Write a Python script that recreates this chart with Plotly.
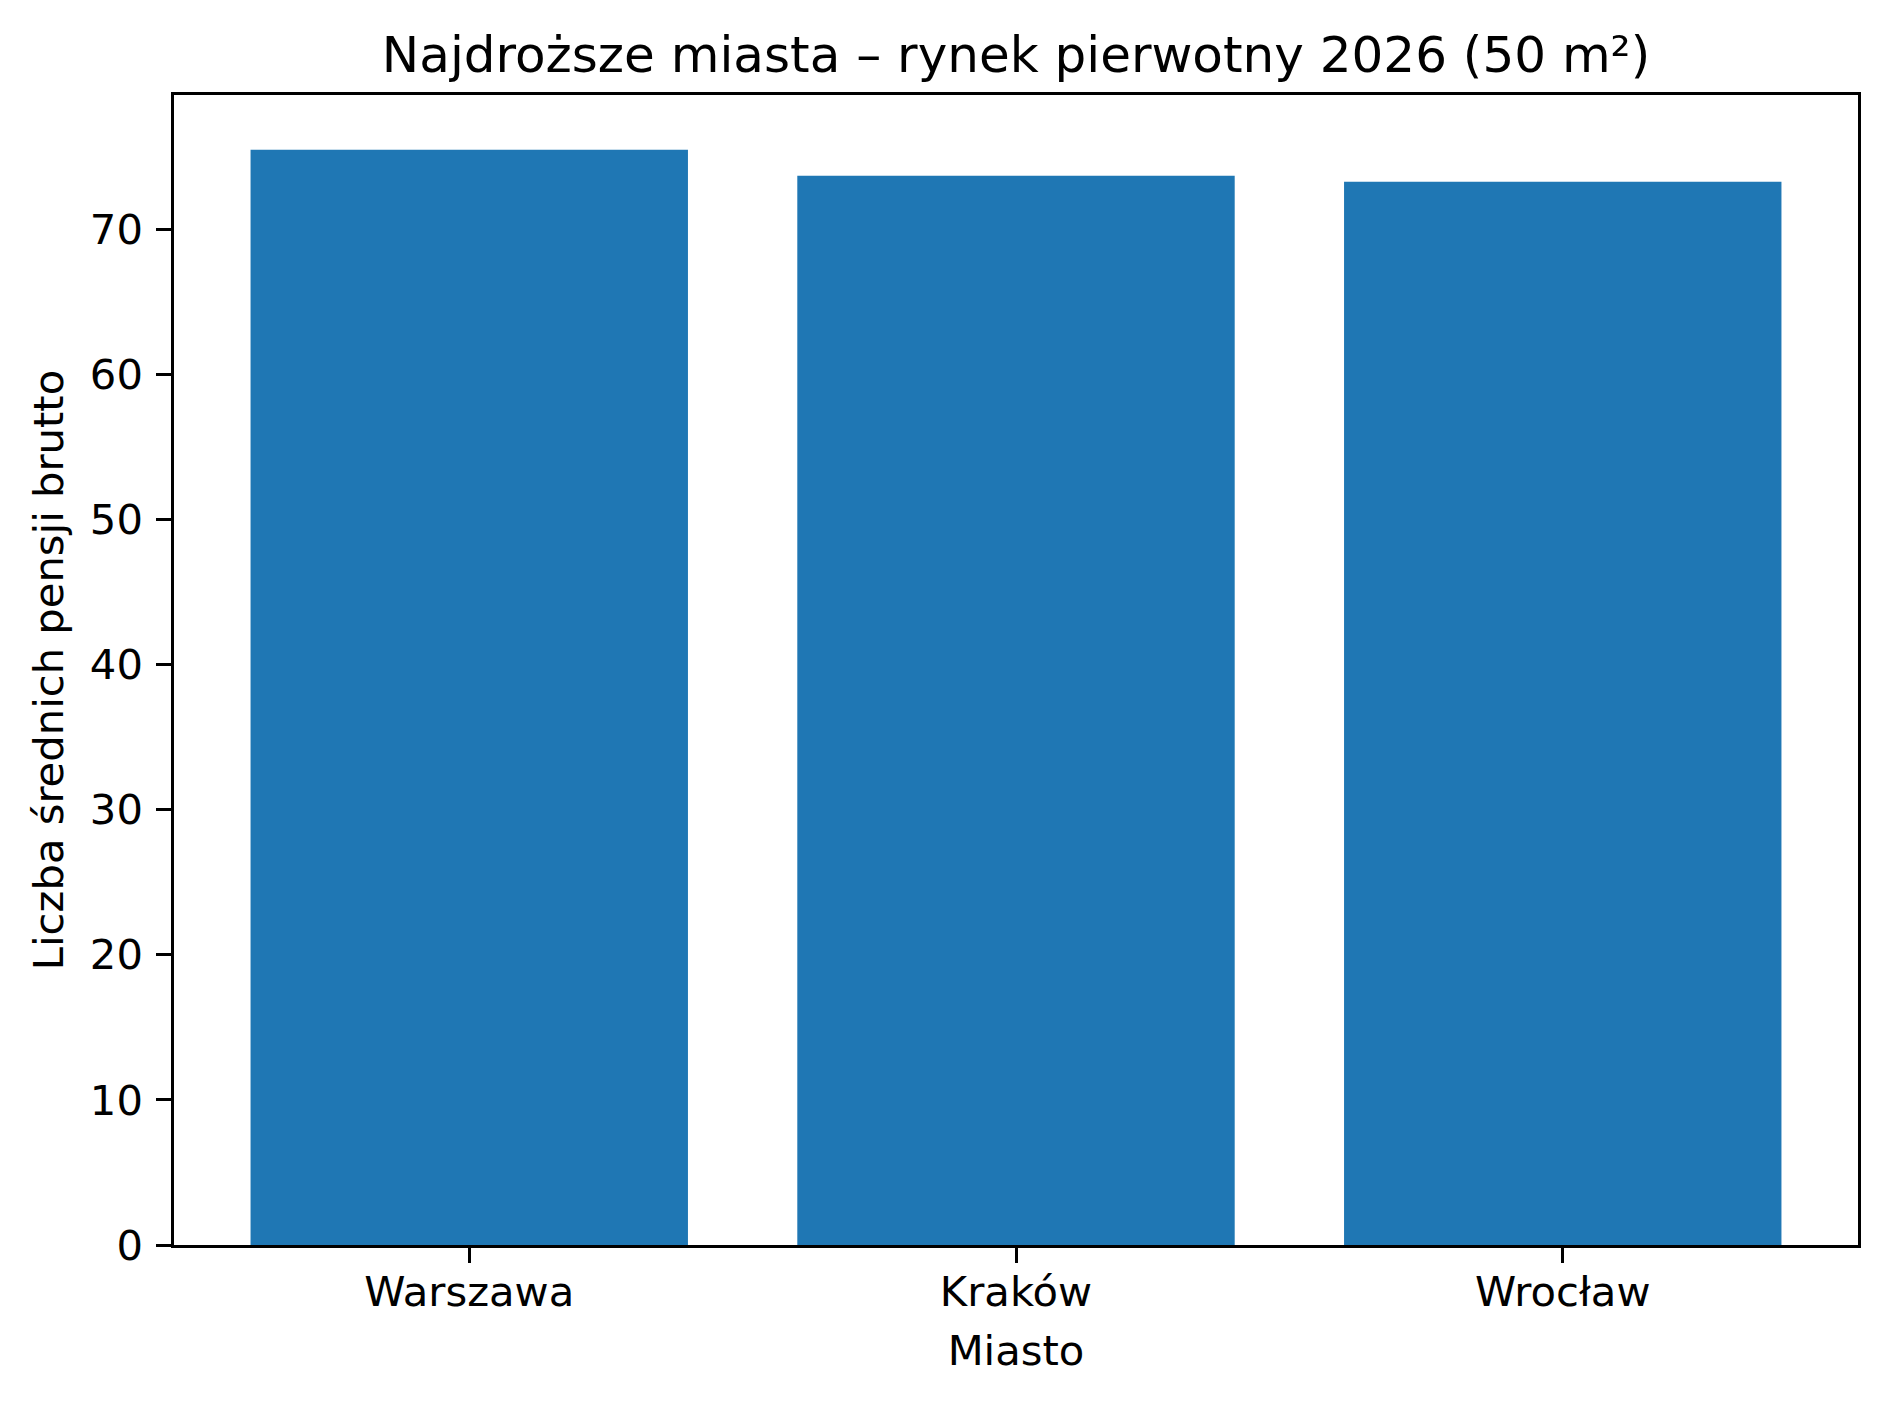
import plotly.graph_objects as go

cities = ["Warszawa", "Kraków", "Wrocław"]
salaries = [75.5, 73.7, 73.3]
y_ticks = [0, 10, 20, 30, 40, 50, 60, 70]

title_text = "Najdroższe miasta – rynek pierwotny 2026 (50 m²)"
x_label = "Miasto"
y_label = "Liczba średnich pensji brutto"

FONT = "DejaVu Sans"
FS = 41.7
W, H = 1874, 1390  # page body has an 8px margin
L, R, T, B = 166, 24, 87, 153

fig = go.Figure(go.Bar(
    x=list(range(len(cities))), y=salaries,
    width=0.8, marker=dict(color="#1f77b4", line=dict(width=0)),
))

fig.update_layout(
    width=W, height=H,
    margin=dict(l=L, r=R, t=T, b=B, autoexpand=False),
    paper_bgcolor="white", plot_bgcolor="white",
    font=dict(family=FONT, size=FS, color="black"),
    showlegend=False,
    title=dict(text=title_text, x=(L + (W - R)) / 2 / W, xanchor="center",
               y=1 - 46 / H, yanchor="middle", font=dict(size=50, family=FONT)),
)
fig.update_xaxes(
    range=[-0.54, len(cities) - 1 + 0.54],
    tickmode="array", tickvals=list(range(len(cities))), ticktext=cities,
    showline=True, mirror=True, linecolor="black", linewidth=3.3,
    ticks="outside", ticklen=14.6, tickwidth=3.3, tickcolor="black",
    showgrid=False, zeroline=False,
    tickfont=dict(size=FS, family=FONT),
    ticklabelstandoff=-7,
    title=dict(text=x_label, font=dict(size=FS, family=FONT), standoff=22),
)
fig.update_yaxes(
    range=[0, max(salaries) * 1.05],
    tickmode="array", tickvals=y_ticks,
    showline=True, mirror=True, linecolor="black", linewidth=3.3,
    ticks="outside", ticklen=14.6, tickwidth=3.3, tickcolor="black",
    showgrid=False, zeroline=False,
    tickfont=dict(size=FS, family=FONT),
    ticklabelstandoff=5,
    title=dict(text=y_label, font=dict(size=FS, family=FONT), standoff=14),
)

fig.write_html("out.html")
